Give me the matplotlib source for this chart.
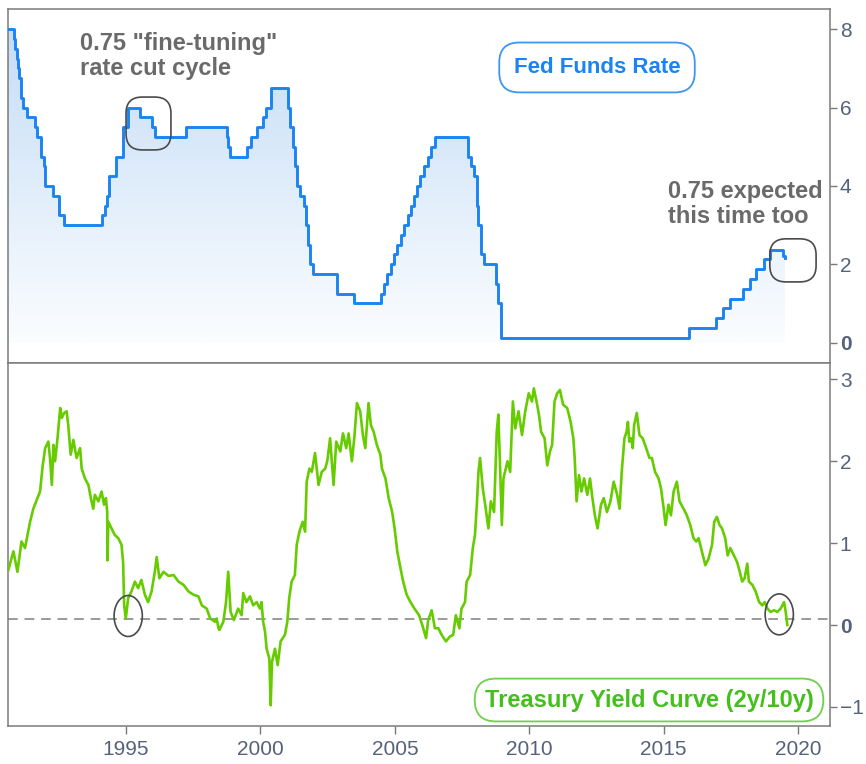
import numpy as np
import pandas as pd
import matplotlib
matplotlib.use("Agg")
import matplotlib.pyplot as plt
import matplotlib.patches as patches
from matplotlib.colors import LinearSegmentedColormap

plt.rcParams['font.family'] = ['Liberation Sans', 'DejaVu Sans']

# fed funds target (date of change, new level)
fed_dates = ["1990-07-13", "1990-10-29", "1990-11-13", "1990-12-07", "1990-12-18",
             "1991-01-08", "1991-02-01", "1991-03-08", "1991-04-30", "1991-08-06",
             "1991-09-13", "1991-10-31", "1991-11-06", "1991-12-06", "1991-12-20",
             "1992-04-09", "1992-07-02", "1992-09-04", "1994-02-04", "1994-03-22",
             "1994-04-18", "1994-05-17", "1994-08-16", "1994-11-15", "1995-02-01",
             "1995-07-06", "1995-12-19", "1996-01-31", "1997-03-25", "1998-09-29",
             "1998-10-15", "1998-11-17", "1999-06-30", "1999-08-24", "1999-11-16",
             "2000-02-02", "2000-03-21", "2000-05-16", "2001-01-03", "2001-01-31",
             "2001-03-20", "2001-04-18", "2001-05-15", "2001-06-27", "2001-08-21",
             "2001-09-17", "2001-10-02", "2001-11-06", "2001-12-11", "2002-11-06",
             "2003-06-25", "2004-06-30", "2004-08-10", "2004-09-21", "2004-11-10",
             "2004-12-14", "2005-02-02", "2005-03-22", "2005-05-03", "2005-06-30",
             "2005-08-09", "2005-09-20", "2005-11-01", "2005-12-13", "2006-01-31",
             "2006-03-28", "2006-05-10", "2006-06-29", "2007-09-18", "2007-10-31",
             "2007-12-11", "2008-01-22", "2008-01-30", "2008-03-18", "2008-04-30",
             "2008-10-08", "2008-10-29", "2008-12-16", "2015-12-17", "2016-12-15",
             "2017-03-16", "2017-06-15", "2017-12-14", "2018-03-22", "2018-06-14",
             "2018-09-27", "2018-12-20", "2019-06-12", "2019-07-05"]
fed_rate = [8.0, 7.75, 7.5, 7.25, 7.0,
            6.75, 6.25, 6.0, 5.75, 5.5,
            5.25, 5.0, 4.75, 4.5, 4.0,
            3.75, 3.25, 3.0, 3.25, 3.5,
            3.75, 4.25, 4.75, 5.5, 6.0,
            5.75, 5.5, 5.25, 5.5, 5.25,
            5.0, 4.75, 5.0, 5.25, 5.5,
            5.75, 6.0, 6.5, 6.0, 5.5,
            5.0, 4.5, 4.0, 3.75, 3.5,
            3.0, 2.5, 2.0, 1.75, 1.25,
            1.0, 1.25, 1.5, 1.75, 2.0,
            2.25, 2.5, 2.75, 3.0, 3.25,
            3.5, 3.75, 4.0, 4.25, 4.5,
            4.75, 5.0, 5.25, 4.75, 4.5,
            4.25, 3.5, 3.0, 2.25, 2.0,
            1.5, 1.0, 0.125, 0.375, 0.625,
            0.875, 1.125, 1.375, 1.625, 1.875,
            2.125, 2.375, 2.2, 2.15]

# 2y/10y spread (decimal year, %)
spread_year = [1990.62, 1990.81, 1990.96, 1991.11, 1991.24, 1991.43, 1991.55, 1991.68, 1991.80, 1991.90,
               1991.99, 1992.11, 1992.17, 1992.24, 1992.30, 1992.36, 1992.45, 1992.55, 1992.61, 1992.70,
               1992.79, 1992.85, 1992.94, 1993.04, 1993.16, 1993.29, 1993.35, 1993.47, 1993.60, 1993.69,
               1993.78, 1993.84, 1993.97, 1994.09, 1994.18, 1994.25, 1994.30, 1994.31, 1994.34, 1994.46,
               1994.58, 1994.71, 1994.83, 1994.89, 1994.93, 1994.99, 1995.08, 1995.20, 1995.33, 1995.45,
               1995.57, 1995.70, 1995.82, 1995.95, 1996.07, 1996.14, 1996.24, 1996.39, 1996.58, 1996.77,
               1996.95, 1997.14, 1997.32, 1997.51, 1997.69, 1997.82, 1998.00, 1998.13, 1998.31, 1998.37,
               1998.44, 1998.47, 1998.62, 1998.72, 1998.80, 1998.89, 1999.01, 1999.17, 1999.30, 1999.36,
               1999.48, 1999.61, 1999.73, 1999.86, 1999.98, 2000.04, 2000.10, 2000.17, 2000.23, 2000.33,
               2000.38, 2000.43, 2000.54, 2000.64, 2000.75, 2000.91, 2001.00, 2001.07, 2001.16, 2001.28,
               2001.35, 2001.45, 2001.57, 2001.66, 2001.72, 2001.82, 2001.91, 2002.03, 2002.16, 2002.28,
               2002.41, 2002.49, 2002.59, 2002.72, 2002.82, 2002.97, 2003.07, 2003.19, 2003.28, 2003.40,
               2003.49, 2003.59, 2003.71, 2003.81, 2003.90, 2004.02, 2004.11, 2004.21, 2004.33, 2004.46,
               2004.52, 2004.65, 2004.77, 2004.90, 2004.99, 2005.09, 2005.21, 2005.31, 2005.44, 2005.58,
               2005.73, 2005.90, 2006.02, 2006.16, 2006.24, 2006.37, 2006.49, 2006.62, 2006.74, 2006.90,
               2007.05, 2007.17, 2007.27, 2007.40, 2007.48, 2007.61, 2007.67, 2007.80, 2007.90, 2007.98,
               2008.05, 2008.11, 2008.17, 2008.27, 2008.36, 2008.48, 2008.57, 2008.69, 2008.79, 2008.85,
               2008.92, 2008.98, 2009.04, 2009.19, 2009.29, 2009.39, 2009.48, 2009.60, 2009.73, 2009.85,
               2009.98, 2010.10, 2010.17, 2010.27, 2010.36, 2010.44, 2010.57, 2010.67, 2010.77, 2010.85,
               2010.94, 2011.04, 2011.14, 2011.26, 2011.41, 2011.54, 2011.64, 2011.69, 2011.76, 2011.85,
               2011.94, 2012.04, 2012.16, 2012.26, 2012.35, 2012.44, 2012.54, 2012.67, 2012.77, 2012.89,
               2013.02, 2013.14, 2013.27, 2013.36, 2013.44, 2013.54, 2013.62, 2013.67, 2013.72, 2013.79,
               2013.85, 2013.90, 2014.00, 2014.10, 2014.22, 2014.35, 2014.47, 2014.56, 2014.68, 2014.81,
               2014.90, 2015.00, 2015.07, 2015.18, 2015.27, 2015.37, 2015.49, 2015.59, 2015.74, 2015.86,
               2015.99, 2016.11, 2016.21, 2016.30, 2016.42, 2016.55, 2016.67, 2016.80, 2016.88, 2016.98,
               2017.08, 2017.17, 2017.29, 2017.38, 2017.48, 2017.61, 2017.73, 2017.83, 2017.92, 2018.01,
               2018.11, 2018.17, 2018.30, 2018.42, 2018.55, 2018.67, 2018.76, 2018.86, 2018.98, 2019.10,
               2019.23, 2019.35, 2019.48, 2019.54, 2019.60]
spread_val = [0.67, 0.90, 0.65, 1.02, 0.94, 1.26, 1.42, 1.53, 1.63, 1.95,
              2.16, 2.24, 2.04, 1.71, 2.20, 2.00, 2.28, 2.65, 2.53, 2.59,
              2.61, 2.44, 2.08, 2.26, 2.04, 2.16, 1.91, 1.79, 1.71, 1.55,
              1.42, 1.59, 1.51, 1.63, 1.47, 1.55, 1.38, 0.79, 1.26, 1.18,
              1.10, 1.06, 0.98, 0.77, 0.24, 0.08, 0.33, 0.41, 0.53, 0.45,
              0.55, 0.37, 0.28, 0.41, 0.65, 0.83, 0.57, 0.65, 0.60, 0.61,
              0.53, 0.49, 0.41, 0.37, 0.35, 0.24, 0.20, 0.08, 0.04, 0.08,
              -0.04, -0.06, 0.04, 0.28, 0.65, 0.16, 0.06, 0.20, 0.12, 0.39,
              0.28, 0.35, 0.24, 0.28, 0.20, 0.28, 0.04, -0.08, -0.29, -0.41,
              -0.98, -0.45, -0.29, -0.49, -0.20, -0.12, 0.04, 0.33, 0.53, 0.61,
              0.98, 1.14, 1.26, 1.14, 1.75, 1.91, 1.87, 2.10, 1.71, 1.87,
              1.91, 2.01, 2.28, 1.71, 2.24, 2.12, 2.34, 2.16, 2.34, 2.00,
              2.28, 2.71, 2.61, 2.32, 2.16, 2.71, 2.44, 2.36, 2.20, 2.08,
              1.91, 1.79, 1.55, 1.38, 1.18, 0.90, 0.69, 0.53, 0.37, 0.28,
              0.20, 0.12, 0.00, -0.16, 0.06, 0.18, -0.04, -0.04, -0.12, -0.20,
              -0.14, -0.12, 0.12, -0.04, 0.20, 0.28, 0.53, 0.61, 0.94, 1.10,
              1.47, 1.87, 2.04, 1.67, 1.47, 1.18, 1.51, 1.38, 2.36, 2.57,
              1.87, 1.22, 1.79, 2.00, 1.87, 2.73, 2.40, 2.61, 2.32, 2.61,
              2.83, 2.73, 2.89, 2.73, 2.57, 2.36, 2.28, 1.95, 2.12, 2.20,
              2.73, 2.83, 2.87, 2.69, 2.65, 2.48, 2.28, 2.04, 1.51, 1.83,
              1.63, 1.79, 1.59, 1.79, 1.55, 1.34, 1.18, 1.47, 1.55, 1.38,
              1.51, 1.75, 1.59, 1.42, 1.87, 2.28, 2.36, 2.48, 2.24, 2.28,
              2.16, 2.44, 2.59, 2.32, 2.28, 2.16, 2.04, 2.04, 1.87, 1.79,
              1.67, 1.42, 1.22, 1.47, 1.34, 1.63, 1.75, 1.51, 1.42, 1.34,
              1.22, 1.06, 1.02, 1.06, 0.90, 0.73, 0.81, 0.98, 1.26, 1.32,
              1.22, 1.18, 1.06, 0.85, 0.94, 0.85, 0.77, 0.65, 0.53, 0.57,
              0.75, 0.53, 0.49, 0.41, 0.28, 0.24, 0.28, 0.20, 0.16, 0.18,
              0.16, 0.20, 0.28, 0.16, 0.00]

fed_end = 2019.51
xmin, xmax = 1990.62, 2021.19

blue = "#1b84f2"
green = "#66cc00"
grey_txt = "#6a6a6a"
tick_col = "#55627a"
frame_col = "#7a7a7a"


def to_year(dates):
    d = pd.to_datetime(dates)
    return (d.year + (d.dayofyear - 0.5) / 365.25).to_numpy()


fx = to_year(fed_dates)
fy = np.array(fed_rate)
fx = np.clip(fx, xmin, None)
fx = np.append(fx, fed_end)
fy = np.append(fy, fy[-1])

fig = plt.figure(figsize=(8.66, 7.64), dpi=100)
ax1 = fig.add_axes([0.0096, 0.5249, 0.9489, 0.4634])
ax2 = fig.add_axes([0.0096, 0.0501, 0.9489, 0.4748])

# ---- top: fed funds ----
grad = np.linspace(0, 1, 256).reshape(-1, 1)
cm = LinearSegmentedColormap.from_list("fade", ["#fbfdff", "#c2dbf6"])
im = ax1.imshow(grad, extent=[xmin, xmax, 0, 8.52], origin="lower", aspect="auto", cmap=cm, zorder=1)
poly = ax1.fill_between(fx, fy, 0, step="post", facecolor="none", edgecolor="none")
im.set_clip_path(poly.get_paths()[0], transform=ax1.transData)
ax1.step(fx, fy, where="post", color=blue, lw=2.1, zorder=3)
ax1.set_xlim(xmin, xmax)
ax1.set_ylim(-0.52, 8.52)

ax1.text(0.0873, 0.935, '0.75 "fine-tuning"\nrate cut cycle', transform=ax1.transAxes,
         ha="left", va="top", fontsize=17, fontweight="bold", color=grey_txt, linespacing=1.1)
ax1.text(0.803, 0.517, "0.75 expected\nthis time too", transform=ax1.transAxes,
         ha="left", va="top", fontsize=17, fontweight="bold", color=grey_txt, linespacing=1.1)
ax1.text(0.7164, 0.8347, "Fed Funds Rate", transform=ax1.transAxes, ha="center", va="center",
         fontsize=16, fontweight="bold", color=blue,
         bbox=dict(boxstyle="round,pad=0.65,rounding_size=0.9", fc="white", ec="#3c96f4", lw=1.3))

# rounded squares around the rate cycles
asp = (1 / 39.2) / (1 / 26.88)
for x0, y0, w, h in [(1995.0, 4.92, 1.67, 1.35), (2018.95, 1.55, 1.72, 1.10)]:
    ax1.add_patch(patches.FancyBboxPatch((x0, y0), w, h, boxstyle="round,pad=0,rounding_size=0.6",
                                         mutation_aspect=asp, fill=False, ec="#4a4a4a", lw=1.2, zorder=4))

# ---- bottom: 2y/10y ----
ax2.plot(spread_year, spread_val, color=green, lw=1.9, zorder=3)
ax2.axhline(0.07, color="#9a9a9a", lw=1.4, ls=(0, (5, 3.5)), zorder=2)
ax2.set_xlim(xmin, xmax)
ax2.set_ylim(-1.23, 3.2)
for cx, cy in [(1995.08, 0.11), (2019.30, 0.13)]:
    ax2.add_patch(patches.Ellipse((cx, cy), 1.05, 0.5, fill=False, ec="#4a4a4a", lw=1.2, zorder=4))

ax2.text(0.7797, 0.0709, "Treasury Yield Curve (2y/10y)", transform=ax2.transAxes, ha="center", va="center",
         fontsize=17, fontweight="bold", color="#44c01c",
         bbox=dict(boxstyle="round,pad=0.42,rounding_size=0.9", fc="white", ec="#6fd04a", lw=1.3))

for ax in (ax1, ax2):
    for s in ax.spines.values():
        s.set_color(frame_col)
        s.set_linewidth(1.1)
    ax.yaxis.tick_right()
    ax.tick_params(axis="y", colors=frame_col, labelcolor=tick_col, length=5, width=1.0, labelsize=15, pad=2)

ax1.set_yticks([0, 2, 4, 6, 8])
ax2.set_yticks([-1, 0, 1, 2, 3])
ax1.set_xticks([])
ax2.set_xticks([1995, 2000, 2005, 2010, 2015, 2020])
ax2.tick_params(axis="x", colors=frame_col, labelcolor=tick_col, length=6, width=1.0, labelsize=15, pad=4)
for ax in (ax1, ax2):
    for lab in ax.get_yticklabels():
        if lab.get_text() == "0":
            lab.set_fontweight("bold")

fig.savefig("out.png", dpi=100)
